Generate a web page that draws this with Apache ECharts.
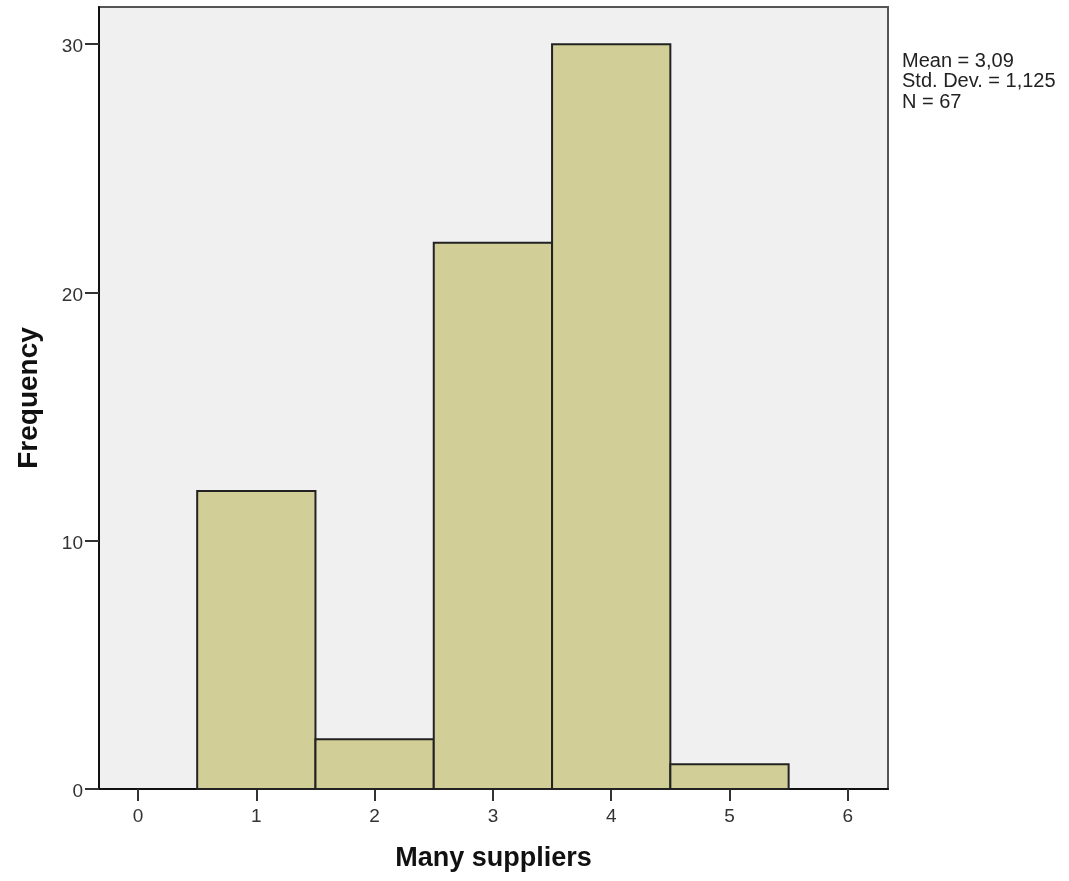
<!DOCTYPE html>
<html>
<head>
<meta charset="utf-8">
<style>
html,body{margin:0;padding:0;background:#fff;}
#chart{width:1069px;height:881px;}
</style>
<script src="https://cdn.jsdelivr.net/npm/echarts@6/dist/echarts.min.js"></script>
</head>
<body>
<div id="chart"></div>
<script>
const binCenters = [1, 2, 3, 4, 5];
const frequencies = [12, 2, 22, 30, 1];
const xTicks = [0, 1, 2, 3, 4, 5, 6];
const yTicks = [0, 10, 20, 30];
const statsLines = ['Mean = 3,09', 'Std. Dev. = 1,125', 'N = 67'];
const xTitle = 'Many suppliers';
const yTitle = 'Frequency';

const chart = echarts.init(document.getElementById('chart'), null, {renderer: 'canvas'});
const font = 'Arial, "Liberation Sans", sans-serif';
chart.setOption({
  animation: false,
  backgroundColor: '#ffffff',
  grid: {
    left: 99, top: 7, right: 181, bottom: 92,
    show: true, backgroundColor: '#F0F0F0', borderColor: '#555', borderWidth: 2
  },
  xAxis: {
    type: 'value', min: -0.33, max: 6.34,
    name: xTitle, nameLocation: 'middle', nameGap: 56,
    nameTextStyle: {fontFamily: font, fontWeight: 'bold', fontSize: 27, color: '#111'},
    splitLine: {show: false},
    axisLine: {show: true, onZero: false, lineStyle: {color: '#111', width: 2}},
    axisTick: {show: true, customValues: xTicks, length: 12, inside: false, lineStyle: {color: '#333', width: 2}},
    axisLabel: {customValues: xTicks, margin: 18, fontFamily: font, fontSize: 19, color: '#333'}
  },
  yAxis: {
    type: 'value', min: 0, max: 31.5,
    name: yTitle, nameLocation: 'middle', nameGap: 56,
    nameTextStyle: {fontFamily: font, fontWeight: 'bold', fontSize: 28, color: '#111'},
    splitLine: {show: false},
    axisLine: {show: true, onZero: false, lineStyle: {color: '#111', width: 2}},
    axisTick: {show: true, customValues: yTicks, length: 14, inside: false, lineStyle: {color: '#333', width: 2}},
    axisLabel: {
      customValues: yTicks, margin: 16, fontFamily: font, fontSize: 19, color: '#333',
      formatter: '{a|{value}}',
      rich: {a: {fontFamily: font, fontSize: 19, color: '#333', padding: [6, 0, 0, 0]}}
    }
  },
  graphic: [{
    type: 'text', left: 902, top: 51,
    style: {text: statsLines.join('\n'), font: '20px ' + font, lineHeight: 20.5, fill: '#222'}
  }],
  series: [{
    type: 'custom',
    data: binCenters.map((c, i) => [c, frequencies[i]]),
    renderItem: function (params, api) {
      const x = api.value(0), y = api.value(1);
      const p1 = api.coord([x - 0.5, y]);
      const p2 = api.coord([x + 0.5, 0]);
      return {
        type: 'rect',
        shape: {x: p1[0], y: p1[1], width: p2[0] - p1[0], height: p2[1] - p1[1]},
        style: {fill: '#D2CE98', stroke: '#222', lineWidth: 2}
      };
    }
  }]
});
</script>
</body>
</html>
